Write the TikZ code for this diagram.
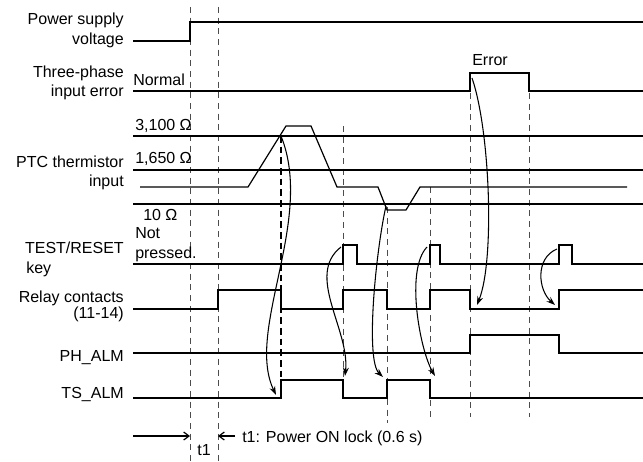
\documentclass[tikz,border=0pt]{standalone}
\usepackage{fontspec}
\setmainfont{Liberation Sans}
\usetikzlibrary{arrows.meta}

\def\xend{643}
\tikzset{
  wave/.style={line width=1.5pt},
  ptcwave/.style={line width=0.9pt},
  guide/.style={line width=0.7pt,black!70,dash pattern=on 4.5pt off 3.5pt},
  guidebold/.style={line width=1.4pt,dash pattern=on 5pt off 3pt},
  cause/.style={line width=0.8pt,-{Stealth[length=6.5pt,width=4.5pt]}},
  lockarrow/.style={line width=0.9pt,-{Straight Barb[length=4pt,width=6pt]}},
  lbl/.style={anchor=base east,inner sep=0pt},
  tag/.style={anchor=base west,inner sep=0pt},
}

\begin{document}
\begin{tikzpicture}[x=0.75pt,y=-0.75pt]%
\fontsize{12}{14}\selectfont%
  \useasboundingbox (0,0) rectangle (643,461);
  % Dashed time marks
  \foreach \x/\ya/\yb in {%
      190/7/461, 218/7/461, 343/126/380, 387/207/423,%
      430/187/417, 470/93/417, 529/93/417%
    }{%
      \draw[guide] (\x,\ya) -- (\x,\yb);%
    };%
  \draw[guidebold] (281,136) -- (281,380);
  % Signal names
  \foreach \name/\y/\txt in {%
      pwra/24/{Power supply}, pwrb/44/voltage,%
      phsa/77/{Three-phase}, phsb/96/{input error},%
      ptca/167/{PTC thermistor}, ptcb/186/input,%
      keya/253/{TEST/RESET},%
      rlya/302/{Relay contacts}, rlyb/318/{(11-14)},%
      phal/361/{PH\_ALM}, tsal/398/{TS\_ALM}%
    }{%
      \node[lbl] (\name) at (124,\y) {\txt};%
    };%
  \node[tag] (keyb) at (26,273) {key};
  % Level tags
  \node[tag] (normal) at (133,85) {Normal};
  \node[tag] (hiohm) at (135,130) {3,100 Ω};
  \node[tag] (midohm) at (135,163) {1,650 Ω};
  \node[tag] (loohm) at (143,220) {10 Ω};
  \node[tag] (notp) at (135,238) {Not};
  \node[tag] (pressed) at (135,258) {pressed.};
  \node[tag] (error) at (472,65) {Error};
  % Waveforms
  \draw[wave] (133,41) -- (190,41) -- (190,22) -- (\xend,22);
  \draw[wave] (133,91) -- (470,91) -- (470,73) -- (529,73) -- (529,91) -- (\xend,91);
  \foreach \y in {136,170,204}
    \draw[wave] (133,\y) -- (\xend,\y);
  \draw[ptcwave] (140,187) -- (248,187) -- (286,126) -- (311,126) -- (337,187)
    -- (378,187) -- (387,210) -- (406,210) -- (420,187) -- (627,187);
  \draw[wave] (133,264) -- (343,264) -- (343,245) -- (357,245) -- (357,264)
    -- (430,264) -- (430,245) -- (440,245) -- (440,264)
    -- (559,264) -- (559,245) -- (572,245) -- (572,264) -- (\xend,264);
  \draw[wave] (133,309) -- (218,309) -- (218,290) -- (281,290) -- (281,309)
    -- (343,309) -- (343,290) -- (387,290) -- (387,309) -- (430,309)
    -- (430,290) -- (470,290) -- (470,309) -- (559,309) -- (559,290) -- (\xend,290);
  \draw[wave] (133,353) -- (470,353) -- (470,335) -- (559,335) -- (559,353) -- (\xend,353);
  \draw[wave] (133,398) -- (281,398) -- (281,380) -- (343,380) -- (343,398)
    -- (387,398) -- (387,380) -- (430,380) -- (430,398) -- (\xend,398);
  % Cause and effect
  \coordinate (hitop) at (281,136);   \coordinate (tson) at (276,395);
  \coordinate (push1) at (341,247);   \coordinate (tsoff1) at (345,376);
  \coordinate (hibot) at (386,206);   \coordinate (tson2) at (383,377);
  \coordinate (push2) at (427,247);   \coordinate (tsoff2) at (435,376);
  \coordinate (errup) at (472,78);    \coordinate (rlyoff) at (477,305);
  \coordinate (push3) at (557,249);   \coordinate (rlyon) at (555,305);
  \draw[cause] (hitop) .. controls (315,220) and (245,330) .. (tson);
  \draw[cause] (push1) .. controls (305,275) and (350,330) .. (tsoff1);
  \draw[cause] (hibot) .. controls (376,250) and (365,360) .. (tson2);
  \draw[cause] (push2) .. controls (405,270) and (420,350) .. (tsoff2);
  \draw[cause] (errup) .. controls (490,130) and (495,260) .. (rlyoff);
  \draw[cause] (push3) .. controls (535,258) and (538,290) .. (rlyon);
  % Power ON lock
  \coordinate (lockl) at (133,436);   \coordinate (lockr) at (235,436);
  \coordinate (t1a) at (190,436);     \coordinate (t1b) at (218,436);
  \draw[lockarrow] (lockl) -- (t1a);
  \draw[lockarrow] (lockr) -- (t1b);
  \node[tag] (lock) at (242,442) {t1: Power ON lock (0.6 s)};
  \node[anchor=base,inner sep=0pt] (tone) at (204,455) {t1};
\end{tikzpicture}
\end{document}
